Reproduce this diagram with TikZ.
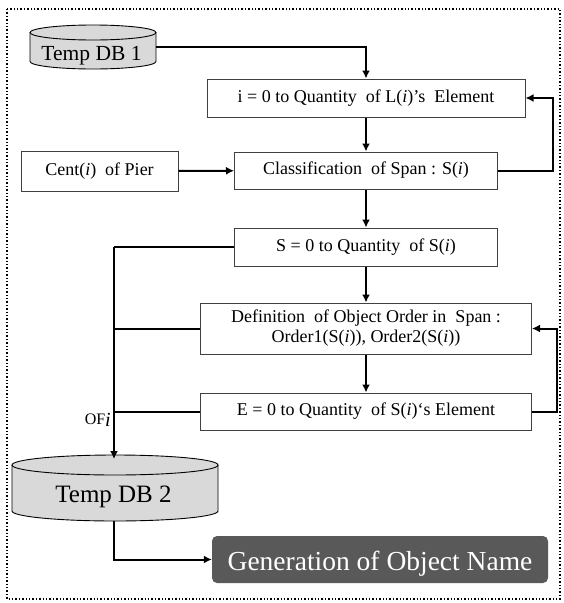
\documentclass[tikz,border=0pt]{standalone}
\usepackage{fontspec}
\setmainfont{Liberation Serif}
\usetikzlibrary{arrows.meta}
\newcommand{\iv}{\textit{i}}
\definecolor{dbgray}{HTML}{D9D9D9}
\definecolor{gengray}{HTML}{595959}
\tikzset{
  procbox/.style={draw=black!75, line width=1pt, fill=white, inner sep=0pt, align=center, font=\fontsize{18}{20}\selectfont},
  conn/.style={line width=2pt, black},
  arr/.style={conn, -{Latex[length=8pt,width=8pt]}},
  dbtext/.style={inner sep=0pt, anchor=base},
  genbox/.style={fill=gengray, rounded corners=5pt, inner sep=0pt, text=white},
}
\begin{document}
\begin{tikzpicture}[x=1pt,y=-1pt]
\useasboundingbox (0,0) rectangle (564,603);
\draw[dotted, line width=1.4pt] (7,9) rectangle (560,599);
% Temp DB 1
\draw[fill=dbgray, line width=0.9pt] (30,32.5) -- (30,61.5) arc[start angle=180,end angle=0,x radius=63,y radius=7.5] -- (156,32.5);
\draw[fill=dbgray, line width=0.9pt] (93,32.5) ellipse[x radius=63, y radius=7.5];
\node[dbtext, font=\fontsize{21.5}{23}\selectfont] (db1) at (91.5,60) {Temp DB 1};
\coordinate (db1e) at (156,47);
% Temp DB 2
\draw[fill=dbgray, line width=0.9pt] (12,465) -- (12,511) arc[start angle=180,end angle=0,x radius=103,y radius=10] -- (218,465);
\draw[fill=dbgray, line width=0.9pt] (115,465) ellipse[x radius=103, y radius=10];
\node[dbtext, font=\fontsize{25}{27}\selectfont] (db2) at (113.5,502) {Temp DB 2};
\coordinate (db2top) at (114,459);
\coordinate (db2bot) at (114,521);
% boxes
\node[procbox, minimum width=318pt, minimum height=38pt] (b1) at (366,98) {i = 0 to Quantity\ \ of L(\iv)'s\ \ Element};
\node[procbox, minimum width=263pt, minimum height=37pt] (b2) at (366,170.5) {Classification\ \ of Span : S(\iv)};
\node[procbox, minimum width=157pt, minimum height=40pt] (cent) at (99.5,171) {Cent(\iv)\ \ of Pier};
\node[procbox, minimum width=263pt, minimum height=38pt] (b3) at (366,247) {S = 0 to Quantity\ \ of S(\iv)};
\node[procbox, minimum width=331pt, minimum height=51pt] (b4) at (366,328.5) {Definition\ \ of Object Order in\ \ Span :\\Order1(S(\iv)), Order2(S(\iv))};
\node[procbox, minimum width=331pt, minimum height=37pt] (b5) at (366,411.5) {E = 0 to Quantity\ \ of S(\iv)`s Element};
\node[genbox, minimum width=336pt, minimum height=47pt] (gen) at (380,559.5) {};
\node[text=white, anchor=base, inner sep=0pt, font=\fontsize{27.5}{29}\selectfont] (gentext) at (380,570) {Generation of Object Name};
% connectors
\draw[arr] (db1e) -| (b1.north);
\draw[arr] (b1) -- (b2);
\draw[arr] (cent) -- (b2);
\draw[arr] (b2.east) -- ++(55,0) |- (b1.east);
\draw[arr] (b2) -- (b3);
\draw[arr] (b3) -- (b4);
\draw[arr] (b4) -- (b5);
\draw[arr] (b5.east) -- ++(25,0) |- (b4.east);
\coordinate (lj3) at (114,247);
\coordinate (lj4) at (114,328.5);
\coordinate (lj5) at (114,411.5);
\draw[conn] (b3.west) -- (lj3);
\draw[conn] (b4.west) -- (lj4);
\draw[conn] (b5.west) -- (lj5);
\draw[arr] (lj3) -- (db2top);
\node[font=\fontsize{16}{18}\selectfont, anchor=base east, inner sep=0pt] (of) at (111,424) {OF\raisebox{-2.5pt}{\fontsize{20}{20}\selectfont\textit{i}}};
\draw[arr] (db2bot) |- (gen.west);
\end{tikzpicture}
\end{document}
